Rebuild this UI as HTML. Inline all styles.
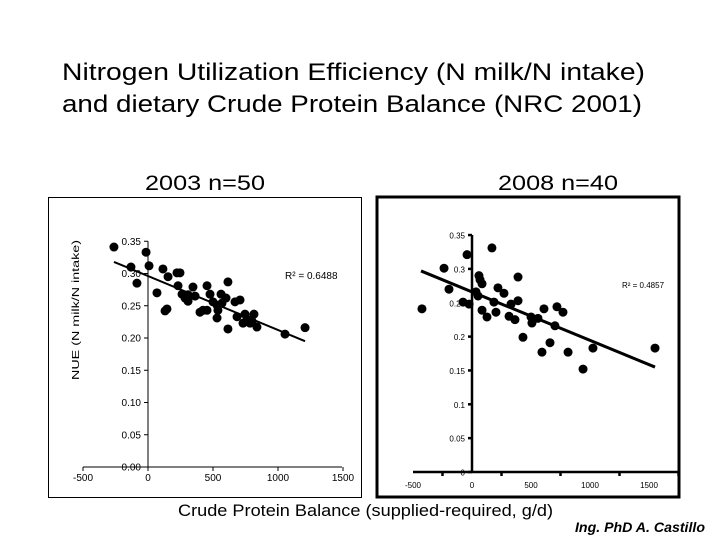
<!DOCTYPE html>
<html><head><meta charset="utf-8"><style>
body{margin:0;background:#fff;}
svg{display:block;font-family:"Liberation Sans",Arial,sans-serif;}
</style></head><body>
<svg id="s" width="720" height="540" xmlns="http://www.w3.org/2000/svg">
<text x="62" y="80" font-size="24" textLength="583" lengthAdjust="spacingAndGlyphs">Nitrogen Utilization Efficiency (N milk/N intake)</text>
<text x="62" y="112" font-size="24" textLength="580" lengthAdjust="spacingAndGlyphs">and dietary Crude Protein Balance (NRC 2001)</text>
<text x="145" y="190" font-size="21" textLength="120" lengthAdjust="spacingAndGlyphs">2003 n=50</text>
<text x="498" y="190" font-size="21" textLength="120" lengthAdjust="spacingAndGlyphs">2008 n=40</text>
<rect x="48.5" y="197.5" width="313" height="300" fill="none" stroke="#000" stroke-width="1"/>
<rect x="377" y="197" width="302" height="300" fill="none" stroke="#000" stroke-width="3"/>
<text transform="translate(79,310) rotate(-90)" font-size="10" text-anchor="middle" textLength="140" lengthAdjust="spacingAndGlyphs">NUE (N milk/N intake)</text>
<text x="178" y="516" font-size="17" textLength="375" lengthAdjust="spacingAndGlyphs">Crude Protein Balance (supplied-required, g/d)</text>
<text x="575" y="532" font-size="14" font-style="italic" font-weight="bold" textLength="130" lengthAdjust="spacingAndGlyphs">Ing. PhD A. Castillo</text>
<text x="285" y="279" font-size="10">R² = 0.6488</text>
<text x="622" y="288" font-size="8">R² = 0.4857</text>
<g id="L"></g><g id="R"></g>
</svg>
<script>
const leftX=[-262,-15,-131,8,-85,115,154,223,246,69,146,131,231,262,285,308,346,308,454,477,562,615,400,423,454,500,531,538,531,569,669,615,685,746,762,731,815,800,838,1054,1208,785,362,708,600];
const leftY=[0.341,0.333,0.310,0.312,0.285,0.307,0.295,0.301,0.301,0.270,0.245,0.242,0.281,0.268,0.262,0.267,0.279,0.257,0.281,0.268,0.268,0.287,0.240,0.243,0.243,0.256,0.251,0.243,0.231,0.254,0.256,0.214,0.233,0.237,0.229,0.223,0.237,0.226,0.217,0.206,0.216,0.223,0.265,0.259,0.262];
const leftTrendX=[-262,1208];
const leftTrendY=[0.318,0.195];
const leftYTicks=["0.00","0.05","0.10","0.15","0.20","0.25","0.30","0.35"];
const xTickValues=[-500,0,500,1000,1500];
const rightX=[169,-42,-237,-195,-424,-76,-25,59,68,85,34,51,85,127,186,203,220,271,331,390,390,314,364,432,500,508,559,610,593,661,703,720,771,814,941,1025,1551];
const rightY=[0.331,0.321,0.301,0.270,0.241,0.251,0.248,0.290,0.284,0.278,0.266,0.260,0.239,0.229,0.251,0.236,0.272,0.264,0.248,0.288,0.253,0.230,0.225,0.199,0.229,0.220,0.227,0.241,0.177,0.191,0.216,0.244,0.236,0.177,0.152,0.183,0.183];
const rightTrendX=[-432,1551];
const rightTrendY=[0.297,0.155];
const rightYTicks=["0","0.05","0.1","0.15","0.2","0.25","0.3","0.35"];
const NS="http://www.w3.org/2000/svg";
function mk(p,t,a){const e=document.createElementNS(NS,t);for(const k in a)e.setAttribute(k,a[k]);p.appendChild(e);return e;}
function draw(g,o){
  const sx=v=>o.x0+v*o.kx, sy=v=>o.y0-v*o.ky;
  let e=mk(g,'line',{x1:sx(-500),x2:o.xEnd,y1:o.y0,y2:o.y0,stroke:'#000','stroke-width':o.sw});
  
  
  e=mk(g,'line',{x1:o.x0,x2:o.x0,y1:o.y0,y2:sy(0.35),stroke:'#000','stroke-width':o.sw});
  
  
  o.yt.forEach((t,i)=>{const y=sy(i*0.05);
    mk(g,'line',{x1:o.x0-4,x2:o.x0,y1:y,y2:y,stroke:'#000','stroke-width':o.sw});
    const tx=mk(g,'text',{x:o.x0-7,y:y+3.5,'font-size':o.fs,'text-anchor':'end'});tx.textContent=t;
    
    });
  xTickValues.forEach(v=>{const x=sx(v);
    mk(g,'line',{x1:sx(v+o.tOff),x2:sx(v+o.tOff),y1:o.y0,y2:o.y0+4,stroke:'#000','stroke-width':o.sw});
    const tx=mk(g,'text',{x:x,y:o.y0+o.ly,'font-size':o.fs,'text-anchor':'middle'});tx.textContent=v;
    
    });
  o.X.forEach((v,i)=>{const c=mk(g,'circle',{cx:sx(v),cy:sy(o.Y[i]),r:4.5,fill:'#000'});
    
    });
  const l=mk(g,'line',{x1:sx(o.tx[0]),y1:sy(o.ty[0]),x2:sx(o.tx[1]),y2:sy(o.ty[1]),stroke:'#000','stroke-width':o.lw});
  
  
}
draw(document.getElementById('L'),{p:'left',x0:148,y0:467,kx:0.13,ky:645,xEnd:342,sw:1,fs:10,yt:leftYTicks,X:leftX,Y:leftY,tx:leftTrendX,ty:leftTrendY,lw:2,tOff:0,ly:14});
draw(document.getElementById('R'),{p:'right',x0:472,y0:472,kx:0.118,ky:677,xEnd:679,sw:2.5,fs:8,yt:rightYTicks,X:rightX,Y:rightY,tx:rightTrendX,ty:rightTrendY,lw:3,tOff:250,ly:16});
</script>
</body></html>
